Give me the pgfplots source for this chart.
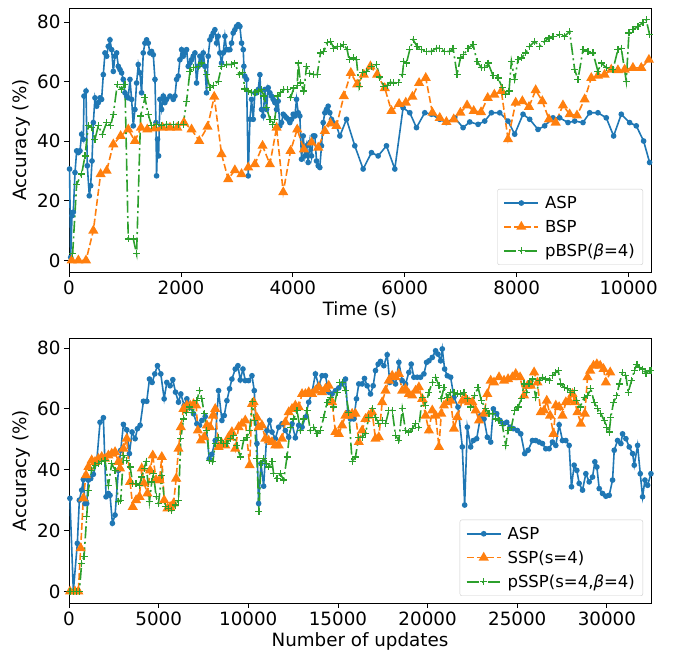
\documentclass[border=0pt]{standalone}
\usepackage{pgfplots}
\pgfplotsset{compat=1.18}
\usepackage{fontspec}
\setmainfont{DejaVu Sans}

\definecolor{c0}{HTML}{1F77B4}
\definecolor{c1}{HTML}{FF7F0E}
\definecolor{c2}{HTML}{2CA02C}

\pgfplotsset{
  acc/.style={
    scale only axis,
    width=582pt,
    font=\fontsize{18.3}{21}\selectfont,
    tick align=outside, tick pos=left,
    major tick length=5pt,
    every tick/.style={black, line width=0.8pt},
    axis line style={line width=0.8pt},
    /pgf/number format/assume math mode=true,
    /pgf/number format/set thousands separator={},
    scaled x ticks=false,
    ytick={0,20,40,60,80},
    ylabel={Accuracy (\%)},
    legend cell align=left,
    legend style={at={(1,0)}, anchor=south east, xshift=-8pt, yshift=7pt,
      draw=black!20, rounded corners=2pt, inner xsep=6pt, inner ysep=5pt,
      font=\fontsize{16.5}{19}\selectfont, row sep=6pt, column sep=4pt},
    legend image code/.code={
      \draw[mark repeat=2, mark phase=2, #1] plot coordinates {(0pt,0pt) (17pt,0pt) (34pt,0pt)};},
  },
  asp/.style={c0, line width=1.6pt, mark=*, mark size=2pt, mark options={solid}},
  bsp/.style={c1, line width=1.6pt, dash pattern=on 7pt off 3pt, mark=triangle*, mark size=4.3pt, mark options={solid}},
  pbsp/.style={c2, line width=1.6pt, dash pattern=on 12pt off 3.5pt on 2pt off 3.5pt, mark=+, mark size=3.5pt, mark options={solid, line width=1.2pt}},
}

\begin{document}
\begin{tikzpicture}
\path[use as bounding box] (0pt,0pt) rectangle (673pt,653pt);

% ---- top: accuracy over time
\begin{axis}[acc, at={(69pt,381pt)}, anchor=south west, height=264pt,
  xmin=0, xmax=10400, ymin=-3.9, ymax=84.8,
  xtick={0,2000,4000,6000,8000,10000},
  xlabel={Time (s)}]
\addplot[asp] coordinates {
(10,30.7) (30,1) (54,15) (77,16.2) (107,29.5) (137,36.8) (167,36.2) (196,36.8) (226,42.4) (256,40.7) (268,55.2)
(304,56.9) (327,31.8) (363,21.7) (387,25.1) (411,33.4) (435,46.3) (464,54.6) (494,51.8) (524,53) (554,54.6)
(583,54.1) (613,62.4) (643,69.7) (673,68.6) (702,71.9) (732,74.1) (762,70.8) (792,63.5) (821,68.6) (851,69.7)
(881,65.2) (911,64.1) (940,63) (970,60.8) (1000,56.3) (1030,55.2) (1059,54.6) (1089,60.8) (1119,54.1) (1149,45.2)
(1178,50.7) (1208,59.6) (1238,65.8) (1268,63) (1297,56.3) (1327,69.7) (1357,73) (1387,74.1) (1416,73) (1446,69.7)
(1476,70.2) (1506,69.1) (1536,60.8) (1554,46.3) (1565,28.4) (1583,40.7) (1601,35.1) (1625,54.1) (1655,50.7) (1685,55.2)
(1714,53) (1744,54.1) (1804,55.2) (1863,54.1) (1893,55.2) (1923,60.8) (1952,61.9) (1982,67.4) (2012,70.8) (2042,68.6)
(2071,69.7) (2101,70.8) (2131,65.2) (2161,66.3) (2190,67.4) (2220,68.6) (2250,69.7) (2280,59.6) (2309,65.2) (2339,68.6)
(2369,67.4) (2399,69.7) (2428,65.2) (2458,56.3) (2488,68.6) (2518,74.1) (2547,75.3) (2577,76.4) (2607,77.5) (2637,73)
(2666,75.3) (2696,69.7) (2726,66.3) (2756,69.7) (2786,75.3) (2815,70.8) (2845,70.8) (2875,70.8) (2905,73) (2934,76.4)
(2964,77.5) (2994,78.6) (3024,79.2) (3054,78.6) (3084,73) (3114,70.8) (3125,65.2) (3143,61.9) (3173,60.8) (3203,28.4)
(3233,47.4) (3262,54.1) (3292,47.4) (3322,56.3) (3352,56.3) (3381,57.4) (3411,62.4) (3441,50.7) (3471,48.5) (3500,57.4)
(3530,50.7) (3560,58) (3590,56.3) (3619,55.2) (3649,54.1) (3679,53) (3709,50.7) (3738,53.5) (3768,45.2) (3798,46.3)
(3828,49.1) (3857,48.5) (3887,47.9) (3917,47.4) (3947,46.3) (3977,47.4) (4006,49.1) (4036,48.5) (4066,54.1) (4096,49.6)
(4125,48.5) (4155,34) (4185,41.8) (4215,35.1) (4244,38.5) (4274,32.9) (4304,39.6) (4334,35.1) (4363,41.8) (4393,41.8)
(4423,33.4) (4453,31.8) (4482,31.2) (4512,38.5) (4542,46.3) (4572,49.6) (4601,50.7) (4631,51.8) (4661,49.6) (4691,47.4)
(4720,46.3) (4780,45.2) (4840,41.8) (4959,47.4) (5107,38.5) (5256,30.7) (5405,36.2) (5524,35.1) (5673,38.5) (5822,30.7)
(5970,51.3) (6090,49.6) (6209,44.6) (6357,49.6) (6476,49.1) (6625,47.4) (6744,46.3) (6893,47.9) (7042,44.6) (7161,46.5)
(7310,45.7) (7429,46.8) (7548,49.6) (7697,49.6) (7845,46.8) (7964,42.4) (8113,49.1) (8232,47.4) (8381,44) (8500,45.2)
(8649,47.9) (8768,47.9) (8917,46.3) (9036,46.8) (9185,46.3) (9304,49.6) (9452,49.6) (9601,47.9) (9732,41.8) (9869,49.1)
(10018,46.3) (10137,45.2) (10268,40.1) (10375,32.9)
};
\addlegendentry{ASP}
\addplot[bsp] coordinates {
(48,0) (167,0) (304,0) (435,10) (565,29) (673,30.1) (792,39) (923,41.8) (1059,44) (1178,40.1)
(1286,44.6) (1399,44) (1536,44.3) (1673,44.6) (1804,44.6) (1934,44.6) (2053,46.3) (2190,44) (2327,40.1) (2476,44.9)
(2595,55) (2726,35.7) (2845,27.3) (2964,30.3) (3083,29) (3203,31.2) (3322,32.3) (3459,38.5) (3590,32.3) (3709,44.6)
(3828,22.9) (3959,36.8) (4078,44) (4197,37.3) (4334,39.6) (4453,37.9) (4572,43.5) (4673,46) (4780,45.2) (4911,55.2)
(5036,63) (5149,59.1) (5268,62.4) (5387,65.2) (5506,62.4) (5643,57.9) (5762,50.2) (5899,52.6) (6018,53) (6137,55)
(6256,59.6) (6375,61.3) (6494,49.6) (6625,47.9) (6744,46.5) (6875,47.4) (6994,49.6) (7113,52.1) (7232,50.2) (7363,49.8)
(7482,54.6) (7601,55.7) (7726,56.9) (7845,40.7) (7982,53) (8101,53.5) (8220,51.6) (8339,57.2) (8458,53.5) (8577,47.4)
(8696,46.3) (8827,52.1) (8946,49.1) (9077,48.7) (9214,54.1) (9333,61.3) (9452,62.1) (9571,62.4) (9690,64.1) (9809,63.9)
(9929,64.1) (10077,64.7) (10226,64.7) (10363,67.4)
};
\addlegendentry{BSP}
\addplot[pbsp] coordinates {
(65,2.2) (137,25.6) (226,29) (286,35.1) (345,45.2) (405,44.6) (464,40.7) (524,45.2) (595,42.4) (673,46.3)
(744,45.2) (792,49.1) (863,59.1) (940,57.4) (1000,59.1) (1059,7.2) (1149,7.2) (1208,2.2) (1280,48.5) (1357,54.6)
(1416,49.1) (1476,45.2) (1565,45.7) (1655,45.4) (1744,45.7) (1863,45.7) (1952,45.7) (2042,45.7) (2101,53.5) (2161,63.5)
(2220,64.7) (2309,65.2) (2369,66.3) (2458,62.4) (2518,58) (2589,58.8) (2666,60.2) (2726,65.2) (2815,65.8) (2905,65.8)
(2964,66.3) (3041,62.4) (3101,63) (3143,57.6) (3202,56.9) (3262,56.3) (3322,56.3) (3381,56.9) (3441,57.4) (3483,55.2)
(3530,51.3) (3590,47.4) (3631,45.7) (3679,47.4) (3721,55.2) (3780,56.3) (3840,57.4) (3899,57.4) (3959,54.6) (4018,57.9)
(4078,58.7) (4096,66.3) (4137,59.6) (4197,56.9) (4244,65.2) (4304,62.8) (4375,62.4) (4435,62.4) (4494,69.7) (4554,70.2)
(4613,73.2) (4673,73.6) (4732,71.3) (4792,71.9) (4851,71.9) (4911,72.5) (4970,70.8) (5006,67.4) (5078,68) (5137,67.4)
(5185,58.3) (5244,63) (5316,63.5) (5405,65.2) (5494,65.8) (5554,61.6) (5625,58.5) (5685,58.8) (5744,59.9) (5804,59.6)
(5881,59.9) (5958,62.4) (5982,66.9) (6030,66.3) (6090,70.8) (6149,74.1) (6220,71.9) (6298,70.8) (6387,70.2) (6476,70.2)
(6566,71.3) (6625,71.3) (6714,70.2) (6804,70.2) (6863,71.3) (6935,62.4) (6994,68) (7054,69.1) (7131,71.3) (7220,72.5)
(7292,66.9) (7369,64.7) (7429,64.7) (7488,66.3) (7577,62.1) (7667,61.3) (7744,58) (7804,55.7) (7863,56.9) (7905,66.9)
(7964,60.8) (8024,67.4) (8083,68) (8161,69.7) (8232,71.9) (8321,73.6) (8411,71.9) (8500,73.6) (8577,74.7) (8649,75.3)
(8768,75.8) (8857,75.3) (8946,76.9) (9036,64.1) (9095,60.8) (9185,70.8) (9274,70.2) (9363,69.7) (9452,63.5) (9512,66.3)
(9601,64.7) (9720,64.1) (9809,70.8) (9869,71.3) (9958,60.2) (10006,76.4) (10077,77.5) (10167,78.6) (10256,79.9) (10315,80.8)
(10375,75.8)
};
\addlegendentry{pBSP({\itshape β}=4)}
\end{axis}

% ---- bottom: accuracy over number of updates
\begin{axis}[acc, at={(69pt,50pt)}, anchor=south west, height=265pt,
  xmin=0, xmax=32460, ymin=-3.8, ymax=83.3,
  xtick={0,5000,10000,15000,20000,25000,30000},
  xlabel={Number of updates}]
\addplot[asp] coordinates {
(50,30.6) (242,0) (465,15.8) (577,30) (707,33.3) (800,36.8) (894,28.9) (987,28.9) (1080,36.6) (1210,37.1)
(1359,38.5) (1545,42.6) (1731,55.6) (1918,57.1) (2067,31.1) (2197,32.2) (2290,31.6) (2420,22.4) (2569,25.1) (2756,39.8)
(2886,46.4) (3035,54.9) (3221,53.1) (3370,45.3) (3519,52.4) (3687,50.2) (3817,53.5) (3966,54.6) (4152,62.5) (4338,62.5)
(4487,69.8) (4636,68.7) (4785,71.5) (4934,74.2) (5120,71.5) (5307,63.3) (5455,68.7) (5641,67.6) (5790,69.6) (5940,65.5)
(6107,62.2) (6237,64.9) (6423,61.1) (6573,63.3) (6759,60.6) (6945,58.4) (7131,55.1) (7280,54.6) (7411,56.2) (7597,57.5)
(7820,43.6) (7969,45.1) (8155,49.6) (8341,66) (8528,56.2) (8658,57.8) (8807,62.7) (8956,66.6) (9086,69.8) (9273,73.1)
(9422,74.2) (9552,69.5) (9701,73.1) (9831,69.3) (10017,69.3) (10204,70.9) (10334,66) (10482,48.6) (10576,28.9) (10707,42)
(10856,34.6) (11043,52.9) (11192,56.2) (11322,52.4) (11508,50.2) (11694,54) (11881,55.1) (12067,52.9) (12253,50.7) (12439,55.1)
(12625,50.5) (12812,54.6) (12998,54) (13184,57.3) (13370,62.2) (13556,65.5) (13743,71.5) (13929,67.6) (14115,70.9) (14301,70.9)
(14487,65.5) (14674,64.9) (14860,66) (15046,66.9) (15232,68.2) (15418,69.8) (15549,58.9) (15698,56.7) (15884,56.7) (16033,63.3)
(16163,68.2) (16349,68.2) (16480,70) (16629,67.6) (16815,64.9) (16964,67.6) (17094,72.6) (17243,74.7) (17373,75.6) (17560,74.2)
(17746,77.8) (17895,68.7) (18025,69.8) (18211,68.2) (18398,75.3) (18584,69.3) (18770,68.2) (18956,72) (19086,74.7) (19235,70.4)
(19422,70.4) (19608,70.4) (19795,71.5) (19944,75.3) (20075,75.8) (20261,76.9) (20447,79.1) (20577,78) (20726,75.8) (20819,79.7)
(20950,73.1) (21099,70.9) (21285,70.4) (21471,63.8) (21694,60.6) (21937,47.5) (22067,28.4) (22216,54) (22402,47.5) (22551,49.6)
(22737,50.2) (22961,57.8) (23147,56.7) (23333,50.7) (23519,49.1) (23668,60) (23855,58.4) (24041,56.2) (24227,55.1) (24413,55.6)
(24599,54) (24785,53.5) (25009,52.9) (25195,51.8) (25418,45.3) (25605,46.4) (25847,49.6) (26033,49.6) (26219,49.1) (26405,48.6)
(26592,46.9) (26778,46.9) (26964,49.1) (27150,48) (27336,54.8) (27523,49.6) (27709,49.6) (27895,48) (28025,34.4) (28174,41.5)
(28323,39.8) (28454,35.5) (28640,33.3) (28826,38.7) (29012,36) (29198,37.6) (29329,42.6) (29441,40.9) (29571,33.8) (29757,32.2)
(29943,31.3) (30129,31.6) (30316,36.6) (30409,46.4) (30595,49.6) (30781,48.6) (30874,51.8) (31060,50.2) (31247,47.5) (31433,45.3)
(31526,41.5) (31712,48) (31861,38.7) (31991,31.1) (32122,36.6) (32271,34.9) (32457,38.7)
};
\addlegendentry{ASP}
\addplot[bsp] coordinates {
(56,0) (335,0) (521,0) (651,14.2) (800,30.6) (949,38.2) (1080,40.9) (1266,43.1) (1452,42.6) (1638,43.6)
(1825,44.2) (2011,43.6) (2197,44.7) (2383,45.3) (2569,45.8) (2756,42.6) (2849,40.4) (3035,46.9) (3221,50.2) (3407,36)
(3556,27.8) (3742,30) (3929,31.1) (4059,40.4) (4189,35.5) (4375,32.2) (4524,39.8) (4673,44.7) (4860,36.6) (5046,36.6)
(5176,44.2) (5307,30) (5493,27.3) (5641,27.8) (5828,28.9) (5977,37.1) (6107,46.9) (6237,54) (6386,60) (6573,61.1)
(6759,61.1) (6945,61.6) (7094,61.1) (7187,52.9) (7355,49.6) (7541,50.7) (7690,54.6) (7876,54) (8025,57.8) (8155,60)
(8341,47.5) (8528,48.6) (8714,48) (8900,50.7) (9086,52.4) (9273,46.9) (9459,54) (9645,55.1) (9831,56.2) (10073,41.5)
(10204,61.6) (10297,62.2) (10483,57.1) (10577,54) (10763,54.6) (10950,50.2) (11136,49.6) (11322,49.1) (11508,48) (11694,48)
(11881,50.2) (12067,55.6) (12253,58.9) (12439,60) (12625,61.1) (12812,60.6) (12998,64.9) (13184,64.9) (13370,65.5) (13556,64.9)
(13743,66) (13929,67.1) (14115,65.5) (14301,66.6) (14487,67.6) (14674,62.2) (14860,52.4) (15046,51.8) (15232,54.6) (15418,57.8)
(15605,57.8) (15791,58.4) (15977,58.4) (16163,49.1) (16349,52.9) (16536,56.7) (16722,57.8) (16908,58.9) (17094,50.2) (17280,50.7)
(17467,62.2) (17653,66) (17839,69.3) (18025,70.9) (18211,70.4) (18398,71.5) (18584,66) (18770,66.6) (18956,64.9) (19142,64.4)
(19329,66) (19515,67.1) (19701,63.3) (19887,57.8) (20073,52.9) (20260,59.5) (20446,57.8) (20633,47.5) (20763,58.4) (20912,61.1)
(21099,62.2) (21285,62.7) (21471,53.5) (21657,57.3) (21937,62.7) (22123,63.3) (22309,62.2) (22495,62.2) (22681,59.5) (22868,56.2)
(23147,58.4) (23333,64.9) (23519,69.3) (23705,68.7) (23985,70.4) (24264,69.3) (24487,69.8) (24730,70.4) (24916,71.5) (25158,70.4)
(25381,64.4) (25567,67.6) (25753,67.6) (25940,72) (26126,68.7) (26312,58.9) (26498,59.5) (26647,62.7) (26833,57.8) (27020,51.8)
(27150,61.1) (27336,60.6) (27523,57.8) (27709,62.2) (27895,62.7) (28081,64.9) (28211,62.2) (28360,58.9) (28547,55.1) (28770,58.4)
(28919,70.4) (29068,72.6) (29254,74.2) (29440,74.7) (29627,74.2) (29813,73.1) (29943,68.7) (30185,72)
};
\addlegendentry{SSP(s=4)}
\addplot[pbsp] coordinates {
(56,0) (242,0) (428,0) (577,0) (707,9.3) (838,11.5) (987,24.5) (1080,33.3) (1266,39.8) (1452,41.5)
(1638,42) (1825,42.6) (2011,43.1) (2197,34.9) (2383,42) (2569,39.8) (2756,29.5) (2886,30) (3035,44.7) (3221,43.1)
(3407,40.9) (3556,35.5) (3742,35.5) (3929,34.9) (4059,37.6) (4189,40.4) (4301,42.6) (4487,29.5) (4617,36) (4711,38.7)
(4860,31.1) (4990,28.9) (5176,38.2) (5362,27.8) (5549,27.3) (5735,26.7) (5921,28.4) (6107,30) (6237,50.2) (6386,56.7)
(6535,58.9) (6721,60.6) (6908,58.9) (7131,62.7) (7280,66) (7411,63.3) (7541,58.4) (7690,52.9) (7839,43.1) (8025,42.6)
(8155,48.6) (8341,50.7) (8472,49.6) (8621,48.6) (8807,48.6) (8993,50.2) (9180,51.3) (9366,48) (9552,44.2) (9738,49.6)
(9924,50.7) (10073,52.9) (10222,62.5) (10334,56.2) (10483,43.6) (10595,26.2) (10707,42) (10856,43.6) (11005,42) (11136,40.9)
(11322,42.6) (11415,38.7) (11601,37.1) (11787,38.7) (11974,36.6) (12160,44.2) (12346,54) (12532,56.7) (12718,59.5) (12905,52.9)
(13091,56.7) (13277,59.5) (13463,52.9) (13649,54) (13836,51.8) (14022,52.9) (14208,57.3) (14394,62.2) (14580,63.8) (14767,60.6)
(14953,65.5) (15102,68.7) (15232,68.7) (15418,66) (15605,58.9) (15791,42.6) (15977,44.2) (16163,50.7) (16349,50.7) (16536,51.8)
(16722,57.3) (16908,60) (17094,57.3) (17280,55.1) (17467,56.2) (17653,55.1) (17839,59.5) (18025,59.5) (18211,51.3) (18398,49.6)
(18584,60) (18770,52.9) (18956,52.4) (19142,53.5) (19329,55.1) (19515,54) (19701,63.8) (19887,61.1) (20073,65.5) (20260,68.7)
(20446,70.4) (20633,67.6) (20763,63.3) (20912,67.1) (21099,63.8) (21285,65.5) (21471,65.5) (21657,64.9) (21843,64.9) (22030,65.5)
(22216,63.3) (22402,60.6) (22625,64.4) (22811,67.1) (22998,62.7) (23240,60) (23426,58.4) (23612,58.4) (23799,56.7) (23985,56.2)
(24171,54.6) (24357,48) (24487,52.9) (24674,54) (24860,59.5) (25046,60.6) (25232,63.3) (25381,68.2) (25530,65.5) (25661,68.2)
(25847,69.8) (26033,63.8) (26219,69.3) (26405,70.4) (26592,69.8) (26778,69.3) (26964,70.9) (27150,72) (27280,72.6) (27429,68.2)
(27615,67.1) (27802,66.6) (27988,65.5) (28174,66) (28323,62.7) (28509,60.6) (28733,63.8) (28919,64.4) (29105,66.6) (29291,62.2)
(29477,60) (29664,58.4) (29850,56.2) (29999,54) (30129,52.4) (30222,57.3) (30371,62.2) (30558,64.4) (30688,68.2) (30874,72)
(31060,70.9) (31191,65.5) (31377,69.3) (31526,72.6) (31675,74.7) (31824,73.6) (31991,73.1) (32178,71.5) (32364,72.6) (32457,72.6)
};
\addlegendentry{pSSP(s=4,{\itshape β}=4)}
\end{axis}
\end{tikzpicture}
\end{document}
